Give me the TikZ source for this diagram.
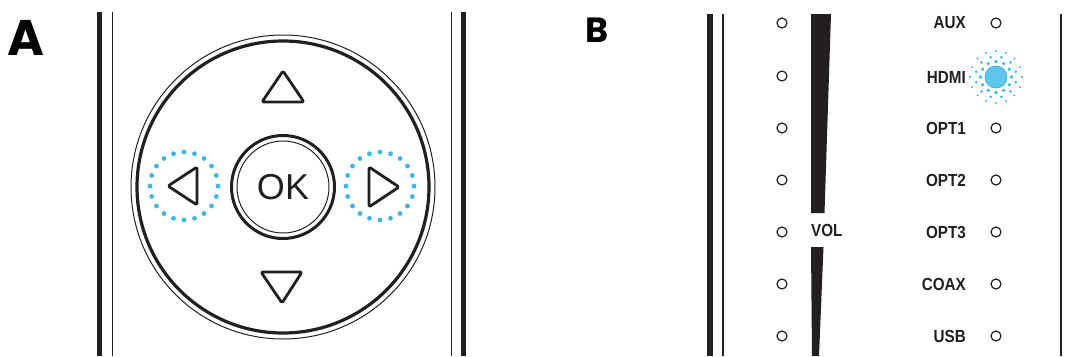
\documentclass[tikz,border=0pt]{standalone}
\usepackage{fontspec}
\setmainfont{Liberation Sans}
\newfontfamily\letterfont{Poppins}
\newfontfamily\inputfont[FakeStretch=0.87]{Liberation Sans Bold}
\usetikzlibrary{positioning}
\definecolor{panelblack}{HTML}{231F20}
\definecolor{glowblue}{HTML}{3DB5E8}
\definecolor{ledblue}{HTML}{5CC6EC}

\begin{document}
\begin{tikzpicture}[x=1pt, y=-1pt,
    flecha/.style={line width=2.8pt, panelblack, line join=round, rounded corners=1.5pt},
    etiqueta/.style={font=\inputfont\fontsize{17.5}{17.5}\selectfont, text=panelblack, inner sep=0pt}]
  \useasboundingbox (0,0) rectangle (1068,356);

  % Letras de los paneles
  \node[font=\letterfont\bfseries\fontsize{50}{50}\selectfont, anchor=base west, inner sep=0pt] (letraA) at (7,55) {A};
  \node[font=\letterfont\bfseries\fontsize{35}{35}\selectfont, anchor=base west, inner sep=0pt] (letraB) at (585,42) {B};

  % Bordes del mando (A)
  \fill[panelblack] (97,12) rectangle (102,356);
  \draw[line width=1pt, panelblack] (112,12) -- (112,356);
  \draw[line width=1pt, panelblack] (451,12) -- (451,356);
  \fill[panelblack] (461,12) rectangle (466,356);

  % Cruceta y boton OK
  \draw[line width=1pt, panelblack] (283,187) circle (152);
  \draw[line width=3.2pt, panelblack] (283,187) circle (146);
  \draw[line width=3pt, panelblack] (283,187) circle (51.5);
  \draw[line width=1pt, panelblack] (283,187) circle (46);
  \node[font=\fontsize{36}{36}\selectfont, text=panelblack, inner sep=0pt] (ok) at (283,187) {OK};

  % Flechas
  \draw[flecha] (262,102) -- (283,71) -- (304,102) -- cycle;
  \draw[flecha] (261,272) -- (302,272) -- (282,303) -- cycle;
  \draw[flecha] (197,167) -- (168,186) -- (197,205) -- cycle;
  \draw[flecha] (369,167) -- (399,187) -- (369,207) -- cycle;

  % Circulos punteados (izquierda / derecha)
  \foreach \cx in {184, 380} {
    \foreach \ang in {0,18,...,342} {
      \fill[glowblue] (\cx,186) ++(\ang:34) circle (2.4);
    }
  }

  % Bordes del panel (B)
  \fill[panelblack] (707,14) rectangle (713,356);
  \draw[line width=1.3pt, panelblack] (723,14) -- (723,356);
  \draw[line width=1.3pt, panelblack] (1061,14) -- (1061,356);

  % Barra de volumen
  \fill[panelblack] (811,14) -- (831,14) -- (824.5,213) -- (811,213) -- cycle;
  \fill[panelblack] (811,247) -- (823.5,247) -- (819,356) -- (812,356) -- cycle;
  \node[etiqueta, anchor=west] (vol) at (811,230.5) {VOL};

  % LEDs de volumen
  \foreach \y in {23,76,128,180,232,284,336} {
    \draw[line width=1.2pt, panelblack] (782,\y) circle (5);
  }

  % Entradas
  \foreach \nombre/\y in {AUX/23, HDMI/77, OPT1/128, OPT2/180, OPT3/232, COAX/284, USB/336} {
    \node[etiqueta, anchor=east] (in-\nombre) at (966,\y) {\nombre};
  }
  \foreach \y in {23,128,180,232,284,336} {
    \draw[line width=1.2pt, panelblack] (996,\y) circle (5);
  }

  % LED HDMI encendido
  \foreach \ang in {0,30,...,330} {
    \fill[glowblue] (996,77) ++(\ang:15.5) circle (1.8);
  }
  \foreach \ang in {15,45,...,345} {
    \fill[glowblue] (996,77) ++(\ang:20.5) circle (1.4);
  }
  \foreach \ang in {0,22.5,...,337.5} {
    \fill[glowblue] (996,77) ++(\ang:26) circle (1.1);
  }
  \fill[ledblue, draw=glowblue, line width=0.8pt] (996,77) circle (11);
\end{tikzpicture}
\end{document}
